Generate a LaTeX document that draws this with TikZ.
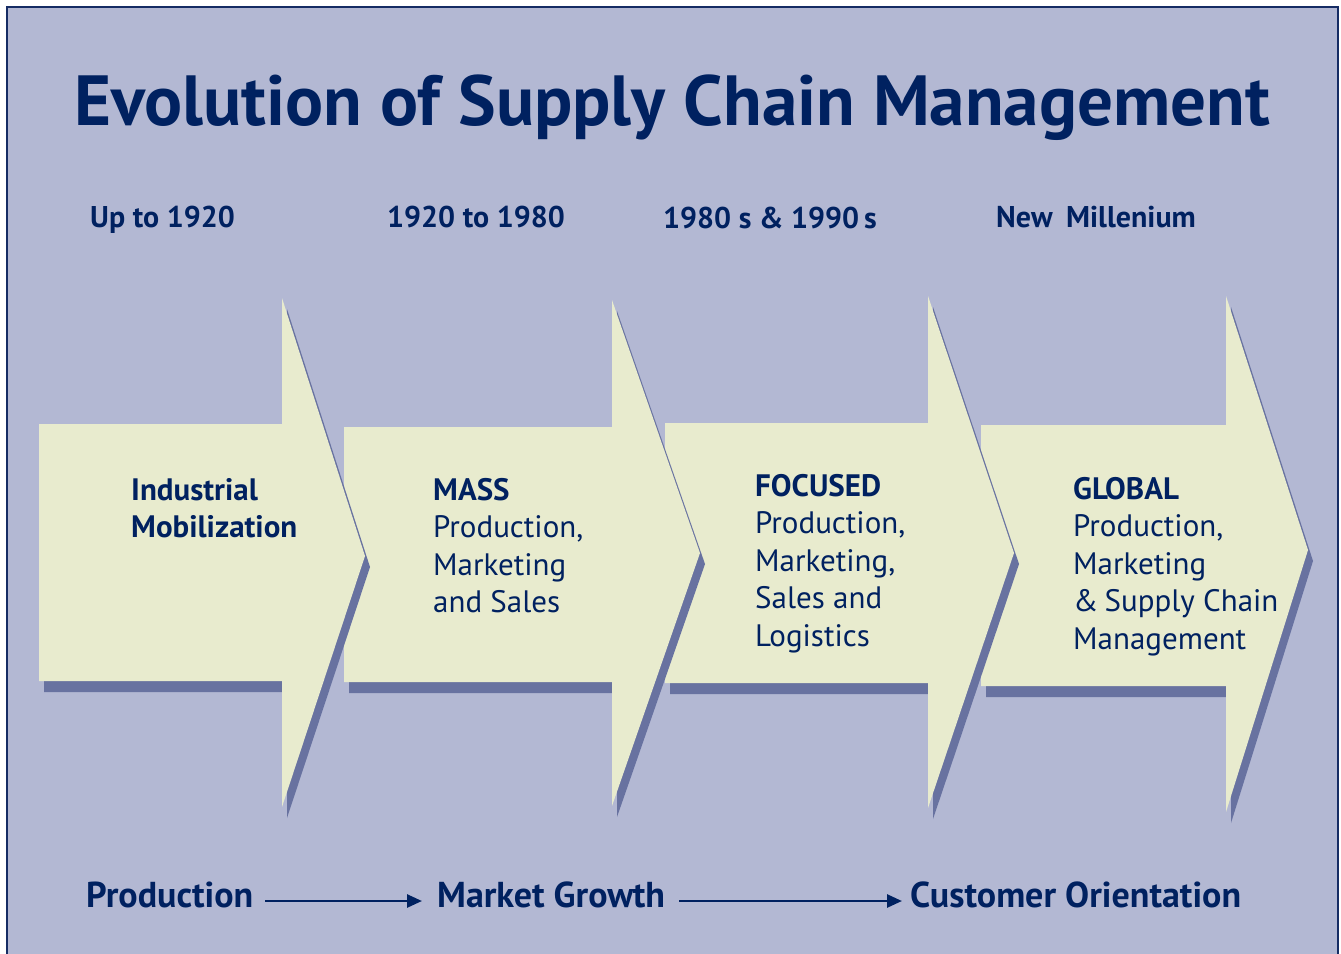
\documentclass[tikz,border=0pt]{standalone}
\usepackage{fontspec}
\setmainfont{PT Sans}
\usetikzlibrary{arrows.meta}

\definecolor{scmnavy}{RGB}{0,33,96}
\definecolor{scmframe}{RGB}{22,44,100}
\definecolor{scmback}{RGB}{179,184,211}
\definecolor{scmcream}{RGB}{232,235,206}
\definecolor{scmshade}{RGB}{104,114,160}

\begin{document}
\begin{tikzpicture}[x=1pt, y=-1pt,
chevron/.style={fill=scmcream},
chevshade/.style={fill=scmshade, shift={(5,11)}},
era/.style={anchor=base west, inner sep=0pt, text=scmnavy, font=\fontsize{30}{36}\selectfont\bfseries},
stage/.style={anchor=north west, inner sep=0pt, align=left, text=scmnavy, font=\fontsize{31}{37.5}\selectfont},
trend/.style={anchor=base west, inner sep=0pt, text=scmnavy, font=\fontsize{36}{43}\selectfont\bfseries},
flow/.style={draw=scmnavy, line width=2.6pt, -{Triangle[length=15pt, width=13pt]}}]
\useasboundingbox (0,0) rectangle (1341,953);
\fill[white] (0,0) rectangle (1341,953);
\draw[scmframe, line width=2pt, fill=scmback] (7,7) rectangle (1338,962);

% title and eras
\node[anchor=base, inner sep=0pt, text=scmnavy, font=\fontsize{71}{84}\selectfont\bfseries] (title) at (672,125) {Evolution of Supply Chain Management};
\node[era] (era1) at (90,227) {Up to 1920};
\node[era] (era2) at (387,227) {1920 to 1980};
\node[era] (era3) at (663,228) {1980 s \& 1990\,s};
\node[era] (era4) at (996,227) {New\hspace{0.45em}Millenium};

% chevrons, right to left so each head lies over the next body
\fill[chevshade] (981,425) -- (1226,425) -- (1226,296) -- (1308,550) -- (1226,812) -- (1226,686) -- (981,686) -- cycle;
\fill[chevron] (981,425) -- (1226,425) -- (1226,296) -- (1308,550) -- (1226,812) -- (1226,686) -- (981,686) -- cycle;
\fill[chevshade] (665,423) -- (928,423) -- (928,296) -- (1014,553) -- (928,808) -- (928,683) -- (665,683) -- cycle;
\fill[chevron] (665,423) -- (928,423) -- (928,296) -- (1014,553) -- (928,808) -- (928,683) -- (665,683) -- cycle;
\fill[chevshade] (344,427) -- (612,427) -- (612,300) -- (700,553) -- (612,806) -- (612,682) -- (344,682) -- cycle;
\fill[chevron] (344,427) -- (612,427) -- (612,300) -- (700,553) -- (612,806) -- (612,682) -- (344,682) -- cycle;
\fill[chevshade] (39,424) -- (282,424) -- (282,298) -- (365,556) -- (282,807) -- (282,681) -- (39,681) -- cycle;
\fill[chevron] (39,424) -- (282,424) -- (282,298) -- (365,556) -- (282,807) -- (282,681) -- (39,681) -- cycle;

\node[stage] (stage1) at (131,478) {\bfseries Industrial\\\bfseries Mobilization};
\node[stage] (stage2) at (433,478) {\bfseries MASS\\Production,\\Marketing\\and Sales};
\node[stage] (stage3) at (755,474) {\bfseries FOCUSED\\Production,\\Marketing,\\Sales and\\Logistics};
\node[stage] (stage4) at (1073,477) {\bfseries GLOBAL\\Production,\\Marketing\\\&\hspace{0.2em}Supply Chain\\Management};

% bottom line
\node[trend] (prod) at (86,907) {Production};
\node[trend] (mkt) at (437,907) {Market Growth};
\node[trend] (cust) at (910,907) {Customer Orientation};
\draw[flow, shorten <=12pt, shorten >=15pt] ([yshift=6pt]prod.base east) -- ([yshift=6pt]mkt.base west);
\draw[flow, shorten <=14pt, shorten >=8pt] ([yshift=6pt]mkt.base east) -- ([yshift=6pt]cust.base west);
\end{tikzpicture}
\end{document}
